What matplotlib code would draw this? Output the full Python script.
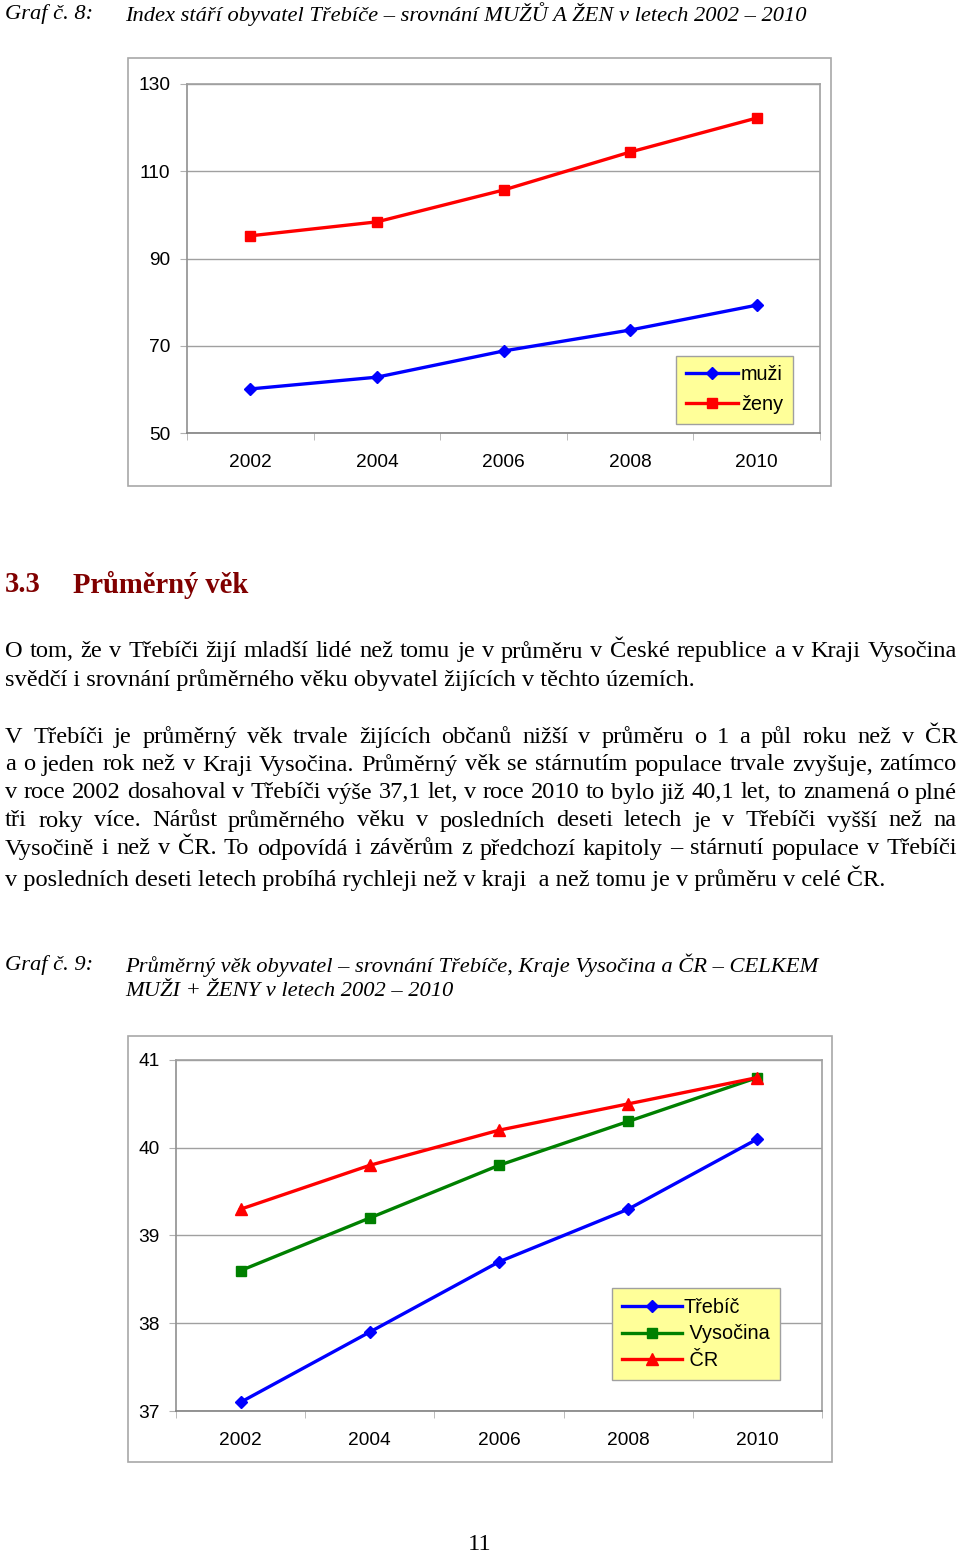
import matplotlib
matplotlib.use("Agg")
import matplotlib.pyplot as plt
from matplotlib.patches import Rectangle

# data
years = ["2002", "2004", "2006", "2008", "2010"]
muzi = [60.1, 62.8, 68.8, 73.6, 79.3]
zeny = [95.2, 98.4, 105.7, 114.4, 122.2]
idx_ticks = [50, 70, 90, 110, 130]

trebic = [37.1, 37.9, 38.7, 39.3, 40.1]
vysocina = [38.6, 39.2, 39.8, 40.3, 40.8]
cr = [39.3, 39.8, 40.2, 40.5, 40.8]
age_ticks = [37, 38, 39, 40, 41]

W, H = 960, 1555
SERIF = "Liberation Serif"
SANS = "Liberation Sans"
BODY = 17.6
CAP = 16.2

fig = plt.figure(figsize=(W / 100, H / 100), dpi=100)


def fx(px):
    return px / W


def fy(py):
    return 1 - py / H


def add_axes_px(x0, y0, x1, y1):
    return fig.add_axes([fx(x0), fy(y1), (x1 - x0) / W, (y1 - y0) / H])


def chart_box(x0, y0, x1, y1):
    fig.patches.append(Rectangle((fx(x0), fy(y1)), (x1 - x0) / W, (y1 - y0) / H,
                                 transform=fig.transFigure, facecolor="white",
                                 edgecolor="#a8a8a8", linewidth=1.2, zorder=-5))


def style_axes(ax, ticks):
    x = range(len(years))
    ax.set_xlim(-0.5, len(years) - 0.5)
    ax.set_ylim(ticks[0], ticks[-1])
    ax.set_yticks(ticks)
    ax.set_yticklabels([str(t) for t in ticks], fontsize=13.8, family=SANS)
    ax.set_xticks(list(x))
    ax.set_xticklabels(years, fontsize=13.8, family=SANS)
    ax.set_xticks([i - 0.5 for i in range(len(years) + 1)], minor=True)
    ax.tick_params(axis="x", which="major", length=0, pad=15)
    ax.tick_params(axis="x", which="minor", length=5, color="#b0b0b0", direction="out")
    ax.tick_params(axis="y", length=5, color="#b0b0b0", pad=7)
    ax.grid(axis="y", color="#a0a0a0", linewidth=1)
    for s in ax.spines.values():
        s.set_color("#a0a0a0")
        s.set_linewidth(1.2)
    ax.spines["left"].set_color("#909090")
    ax.spines["bottom"].set_color("#808080")
    ax.set_axisbelow(True)


def justified(text, py, x0=5, x1=957, size=BODY):
    r = fig.canvas.get_renderer()
    words = text.split()
    ts = [fig.text(0, fy(py), w, fontsize=size, family=SERIF, va="center") for w in words]
    ws = [t.get_window_extent(r).width for t in ts]
    gap = (x1 - x0 - sum(ws)) / (len(words) - 1)
    x = x0
    for t, w in zip(ts, ws):
        t.set_x(fx(x))
        x += w + gap


def line(text, py, px=5, size=BODY, **kw):
    fig.text(fx(px), fy(py), text, fontsize=size, family=SERIF, va="center", **kw)


# ---- Graf 8 ----
line("Graf č. 8:", 14, size=CAP, style="italic")
line("Index stáří obyvatel Třebíče – srovnání MUŽŮ A ŽEN v letech 2002 – 2010", 14, px=125,
     size=CAP, style="italic")

chart_box(128, 58, 831, 486)
ax1 = add_axes_px(187, 84, 820, 433)
x = range(len(years))
ax1.plot(x, muzi, color="#0000ff", marker="D", markersize=6.5, linewidth=2.4, label="muži")
ax1.plot(x, zeny, color="#ff0000", marker="s", markersize=6.5, linewidth=2.4, label="ženy")
style_axes(ax1, idx_ticks)
leg1 = ax1.legend(loc="center", bbox_to_anchor=(0.763, 0.029, 0.204, 0.189),
                  prop={"family": SANS, "size": 14.3}, fancybox=False, framealpha=1,
                  facecolor="#ffff99", edgecolor="#a0a0a0", handlelength=2.6,
                  handletextpad=0.15, labelspacing=0.55, borderpad=0.5)
leg1.get_frame().set_linewidth(1)

# ---- text ----
fig.text(fx(5), fy(585), "3.3", fontsize=20.6, family=SERIF, weight="bold", color="#800000", va="center")
fig.text(fx(73), fy(585), "Průměrný věk", fontsize=20.6, family=SERIF, weight="bold", color="#800000",
         va="center")

justified("O tom, že v Třebíči žijí mladší lidé než tomu je v průměru v České republice a v Kraji Vysočina", 652)
line("svědčí i srovnání průměrného věku obyvatel žijících v těchto územích.", 680)

justified("V Třebíči je průměrný věk trvale žijících občanů nižší v průměru o 1 a půl roku než v ČR", 737)
justified("a o jeden rok než v Kraji Vysočina. Průměrný věk se stárnutím populace trvale zvyšuje, zatímco", 765)
justified("v roce 2002 dosahoval v Třebíči výše 37,1 let, v roce 2010 to bylo již 40,1 let, to znamená o plné", 793)
justified("tři roky více. Nárůst průměrného věku v posledních deseti letech je v Třebíči vyšší než na", 821)
justified("Vysočině i než v ČR. To odpovídá i závěrům z předchozí kapitoly – stárnutí populace v Třebíči", 849)
line("v posledních deseti letech probíhá rychleji než v kraji  a než tomu je v průměru v celé ČR.", 878)

# ---- Graf 9 ----
line("Graf č. 9:", 965, size=CAP, style="italic")
line("Průměrný věk obyvatel – srovnání Třebíče, Kraje Vysočina a ČR – CELKEM", 965, px=125,
     size=CAP, style="italic")
line("MUŽI + ŽENY v letech 2002 – 2010", 992, px=125, size=CAP, style="italic")

chart_box(128, 1036, 832, 1462)
ax2 = add_axes_px(176, 1060, 822, 1411)
ax2.plot(x, trebic, color="#0000ff", marker="D", markersize=6.5, linewidth=2.4, label="Třebíč")
ax2.plot(x, vysocina, color="#008000", marker="s", markersize=6.5, linewidth=2.4, label=" Vysočina")
ax2.plot(x, cr, color="#ff0000", marker="^", markersize=8.5, linewidth=2.4, label=" ČR")
style_axes(ax2, age_ticks)
leg2 = ax2.legend(loc="center", bbox_to_anchor=(0.678, 0.094, 0.254, 0.251),
                  prop={"family": SANS, "size": 14.3}, fancybox=False, framealpha=1,
                  facecolor="#ffff99", edgecolor="#a0a0a0", handlelength=3.0,
                  handletextpad=0.1, labelspacing=0.4, borderpad=0.5)
leg2.get_frame().set_linewidth(1)

fig.text(0.5, fy(1545), "11", fontsize=BODY, family=SERIF, ha="center", va="center")

fig.savefig("out.png", dpi=100)
